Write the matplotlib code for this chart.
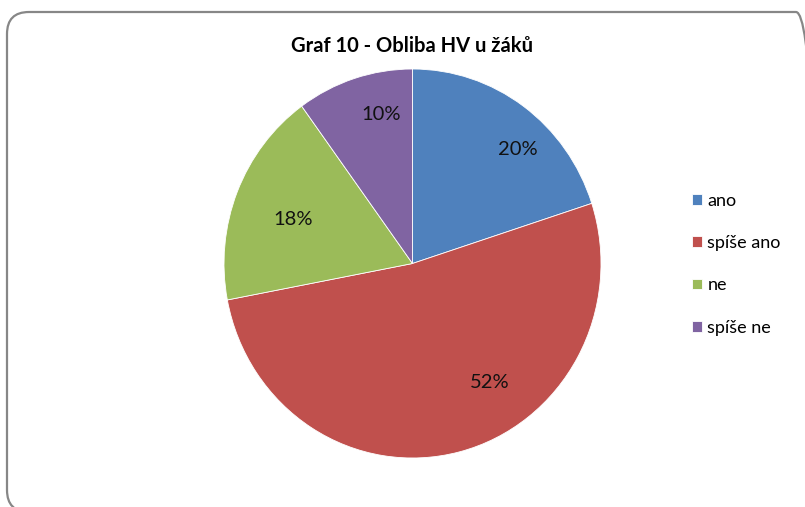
import matplotlib
matplotlib.use('Agg')
import matplotlib.pyplot as plt
from matplotlib.patches import FancyBboxPatch

plt.rcParams['font.family'] = ['Lato', 'DejaVu Sans']

# data
title = 'Graf 10 - Obliba HV u žáků'
categories = ['ano', 'spíše ano', 'ne', 'spíše ne']
shares = [20, 52, 18, 10]
colors = ['#4F81BD', '#C0504D', '#9BBB59', '#8064A2']

# where Excel put the percentage labels (data units, pie radius = 1)
label_pos = [(0.557, 0.586), (0.408, -0.612), (-0.631, 0.226), (-0.164, 0.766)]

W, H = 805, 507
fig = plt.figure(figsize=(W / 100, H / 100), dpi=100)

# rounded chart frame, in pixels
frame = FancyBboxPatch((7, -5), 811, 500, boxstyle='round,pad=0,rounding_size=22',
                       transform=None, facecolor='none', edgecolor='#878787', linewidth=1.6)
fig.patches.append(frame)

ax = fig.add_axes([224 / W, 49 / H, 377 / W, 389 / H])
wedges, texts, autotexts = ax.pie(shares, colors=colors, startangle=90, counterclock=False,
                                  autopct='%d%%', radius=1,
                                  wedgeprops=dict(edgecolor='white', linewidth=0.6),
                                  textprops=dict(fontsize=14.5, color='#111111'))
ax.set_aspect('auto')
ax.set_xlim(-1, 1)
ax.set_ylim(-1, 1)
ax.axis('off')

for t, (x, y) in zip(autotexts, label_pos):
    t.set_position((x, y))
    t.set_ha('center')
    t.set_va('center')

fig.text(412 / W, 1 - 46 / H, title, ha='center', va='center', fontsize=14.5, fontweight='bold')

fig.legend(wedges, categories, loc='upper left', bbox_to_anchor=(683 / W, 1 - 184 / H),
           frameon=False, fontsize=13, handlelength=0.55, handleheight=0.55,
           handletextpad=0.3, labelspacing=1.45, borderpad=0)

fig.savefig('out.png', dpi=100)
